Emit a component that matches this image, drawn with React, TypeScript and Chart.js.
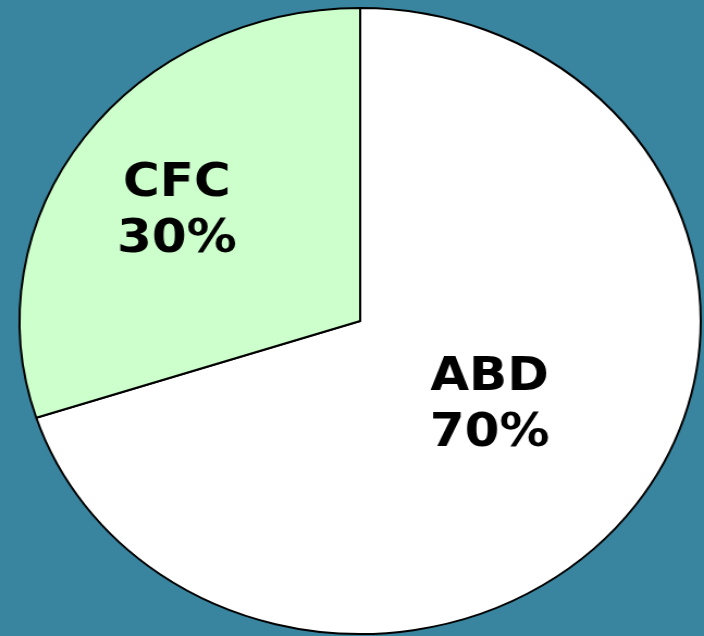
import React, { useEffect, useRef } from "react";
import { Chart, registerables } from "chart.js";

Chart.register(...registerables);

const categories = ["ABD", "CFC"];
const values = [70, 30];
const sliceColors = ["#FFFFFF", "#CCFFCC"];
const labelRadius = [0.458, 0.649];

const W = 647;
const H = 636;
const SX = 704 / W;

const labelPlugin = {
  id: "sliceLabels",
  afterDatasetsDraw(chart: any) {
    const ctx = chart.ctx;
    const meta = chart.getDatasetMeta(0);
    const total = values.reduce((a, b) => a + b, 0);
    const fontSize = 46;
    const cap = fontSize * 0.729;
    const pitch = 56;
    const angleShift = -0.036;
    ctx.save();
    ctx.font = `bold ${fontSize}px "DejaVu Sans", Verdana, sans-serif`;
    ctx.fillStyle = "#000000";
    ctx.textAlign = "center";
    ctx.textBaseline = "alphabetic";
    meta.data.forEach((arc: any, i: number) => {
      const p = arc.getProps(["x", "y", "startAngle", "endAngle", "outerRadius"], true);
      const mid = (p.startAngle + p.endAngle) / 2 + angleShift;
      const r = p.outerRadius * labelRadius[i];
      const lx = p.x + Math.cos(mid) * r;
      const ly = p.y + Math.sin(mid) * r;
      const pct = Math.round((values[i] / total) * 100) + "%";
      ctx.fillText(categories[i], lx, ly - pitch / 2 + cap / 2);
      ctx.fillText(pct, lx, ly + pitch / 2 + cap / 2);
    });
    ctx.restore();
  },
};

export default function App() {
  const ref = useRef<HTMLCanvasElement | null>(null);
  useEffect(() => {
    if (!ref.current) return;
    const chart = new Chart(ref.current, {
      type: "pie",
      data: {
        labels: categories,
        datasets: [
          {
            data: values,
            backgroundColor: sliceColors,
            borderColor: "#000000",
            borderWidth: 2,
            hoverOffset: 0,
          },
        ],
      },
      options: {
        responsive: false,
        devicePixelRatio: 1,
        animation: false,
        layout: { padding: { left: 17, top: 7, right: 2, bottom: 1 } },
        plugins: {
          legend: { display: false },
          tooltip: { enabled: false },
        },
      },
      plugins: [labelPlugin],
    });
    return () => chart.destroy();
  }, []);
  return (
    <div
      style={{
        position: "fixed",
        left: 0,
        top: 0,
        width: 704,
        height: 636,
        background: "#39849E",
        overflow: "hidden",
      }}
    >
      <canvas
        ref={ref}
        width={W}
        height={H}
        style={{
          display: "block",
          transform: `scaleX(${SX})`,
          transformOrigin: "0 0",
        }}
      />
    </div>
  );
}
